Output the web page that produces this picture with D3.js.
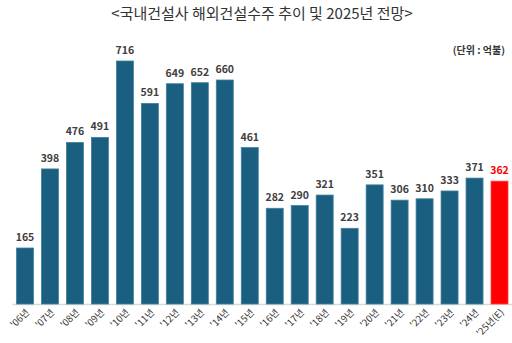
<!DOCTYPE html>
<html>
<head>
<meta charset="utf-8">
<script src="https://cdn.jsdelivr.net/npm/d3@7"></script>
<style>
  body { margin: 0; background: #fff; }
  svg { display: block; font-family: "Noto Sans CJK KR", "Noto Sans", sans-serif; }
</style>
</head>
<body>
<div id="chart"></div>
<script>
// yearly overseas construction orders (100M USD)
const years = ["'06년", "'07년", "'08년", "'09년", "'10년", "'11년", "'12년", "'13년", "'14년", "'15년",
               "'16년", "'17년", "'18년", "'19년", "'20년", "'21년", "'22년", "'23년", "'24년", "'25년(E)"];
const orders = [165, 398, 476, 491, 716, 591, 649, 652, 660, 461,
                282, 290, 321, 223, 351, 306, 310, 333, 371, 362];
const forecastYear = "'25년(E)";

const width = 512, height = 343;
const margin = { top: 61, right: 0, bottom: 39, left: 12.5 };
const innerW = width - margin.left - margin.right,
      innerH = height - margin.top - margin.bottom;

const svg = d3.select("#chart")
  .append("svg")
    .attr("width", width)
    .attr("height", height);

// title and unit note
svg.append("text")
  .attr("x", 262)
  .attr("y", 19)
  .attr("text-anchor", "middle")
  .attr("font-size", 15)
  .attr("fill", "#333")
  .text("<국내건설사 해외건설수주 추이 및 2025년 전망>");

svg.append("text")
  .attr("x", 505)
  .attr("y", 54)
  .attr("text-anchor", "end")
  .attr("font-size", 10)
  .attr("font-weight", "bold")
  .attr("fill", "#333")
  .text("(단위 : 억불)");

const g = svg.append("g")
  .attr("transform", `translate(${margin.left},${margin.top})`);

const x = d3.scaleBand()
  .domain(years)
  .range([0, innerW])
  .paddingInner(0.32)
  .paddingOuter(0.16);

const y = d3.scaleLinear()
  .domain([0, 716])
  .range([innerH, 0]);

// baseline
g.append("line")
  .attr("x1", 0)
  .attr("x2", innerW)
  .attr("y1", innerH + 0.5)
  .attr("y2", innerH + 0.5)
  .attr("stroke", "#d9d9d9")
  .attr("stroke-width", 1.5);

const colour = d => d === forecastYear ? "#ff0000" : "#1b5f80";

g.selectAll(".bar")
  .data(years)
  .enter().append("rect")
    .attr("class", "bar")
    .attr("x", d => x(d))
    .attr("y", (d, i) => y(orders[i]))
    .attr("width", x.bandwidth())
    .attr("height", (d, i) => innerH - y(orders[i]))
    .attr("fill", colour)
    .attr("stroke", d => d === forecastYear ? "#ff4040" : "#3f7f9e")
    .attr("stroke-width", 0.8);

// value labels
g.selectAll(".value")
  .data(years)
  .enter().append("text")
    .attr("class", "value")
    .attr("x", d => x(d) + x.bandwidth() / 2)
    .attr("y", (d, i) => y(orders[i]) - 7)
    .attr("text-anchor", "middle")
    .attr("font-size", 10.5)
    .attr("font-weight", "bold")
    .attr("fill", d => d === forecastYear ? "#ff0000" : "#404040")
    .text((d, i) => orders[i]);

// rotated year labels
const xAxis = d3.axisBottom(x).tickSize(0).tickPadding(0);
g.append("g")
  .attr("class", "x axis")
  .attr("transform", `translate(0,${innerH})`)
  .call(xAxis)
  .call(a => a.select(".domain").remove())
  .selectAll("text")
    .attr("font-size", 9.5)
    .attr("font-family", "\"Noto Sans CJK KR\", sans-serif")
    .attr("fill", "#333")
    .attr("text-anchor", "end")
    .attr("dy", 0)
    .attr("transform", "translate(5,9) rotate(-45)");
</script>
</body>
</html>
